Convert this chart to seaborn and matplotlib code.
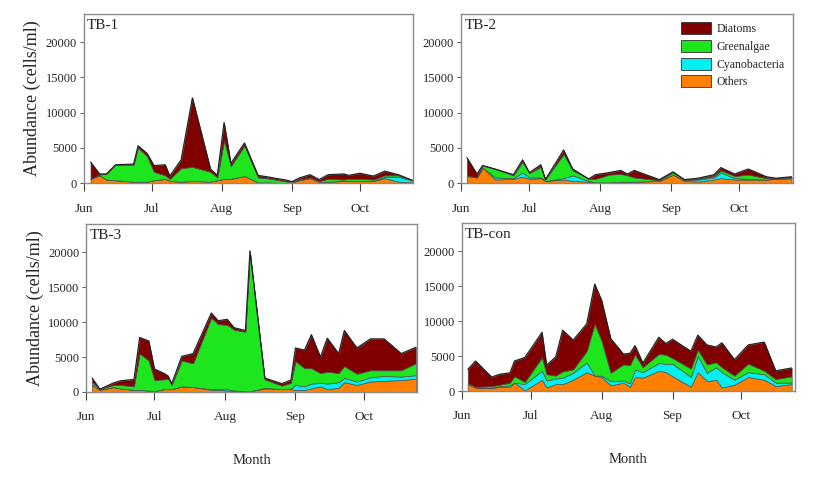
import matplotlib
matplotlib.use("Agg")
import matplotlib.pyplot as plt
import seaborn as sns
import numpy as np
import pandas as pd
from matplotlib.patches import Patch

# ---------------- data (days since 1 June) ----------------
groups = ["Diatoms", "Greenalgae", "Cyanobacteria", "Others"]
month_labels = ["Jun", "Jul", "Aug", "Sep", "Oct"]
month_days = [0, 30, 61, 92, 122]

tb1_day = [3, 7, 10, 14, 22, 24, 28, 31, 36, 38, 43, 48, 56, 59, 62, 65, 71, 77, 81, 90, 92, 95, 100, 104, 108, 115, 117, 122, 128, 133, 139, 146]
tb1_oth = [600, 1100, 500, 400, 200, 200, 200, 400, 600, 300, 200, 300, 200, 400, 600, 600, 1000, 100, 100, 0, 100, 400, 700, 200, 200, 300, 300, 300, 300, 700, 200, 100]
tb1_cya = [0, 0, 0, 0, 0, 0, 0, 0, 0, 0, 0, 0, 0, 0, 0, 0, 0, 0, 0, 0, 0, 0, 0, 0, 0, 0, 0, 0, 0, 200, 700, 200]
tb1_gre = [0, 100, 800, 2200, 2400, 4800, 3600, 1200, 500, 300, 1900, 2000, 1400, 400, 5400, 1800, 4300, 700, 600, 200, 50, 100, 100, 100, 400, 200, 300, 300, 200, 200, 200, 0]
tb1_dia = [2400, 100, 0, 0, 100, 300, 400, 900, 1500, 400, 1200, 9800, 400, 300, 2600, 400, 400, 300, 200, 200, 50, 200, 400, 200, 600, 800, 500, 800, 500, 600, 100, 0]

tb2_day = [2.6, 7, 9.5, 15, 23, 27, 30, 35, 37, 45, 49, 56, 59, 65, 70, 73, 76, 87, 93, 98, 104, 111, 114, 120, 126, 134, 138, 145]
tb2_oth = [1000, 800, 2200, 500, 600, 900, 600, 700, 300, 500, 300, 200, 100, 100, 200, 200, 200, 300, 1200, 300, 200, 500, 700, 500, 500, 500, 600, 700]
tb2_cya = [0, 0, 0, 300, 100, 600, 200, 100, 0, 200, 800, 100, 0, 0, 0, 0, 0, 0, 0, 100, 300, 300, 800, 200, 100, 0, 0, 0]
tb2_gre = [100, 0, 300, 1200, 400, 1500, 600, 1500, 200, 3400, 700, 300, 500, 1100, 1100, 900, 600, 100, 300, 100, 100, 200, 300, 300, 600, 200, 0, 100]
tb2_dia = [2500, 500, 0, 0, 100, 300, 100, 300, 0, 600, 200, 0, 600, 300, 500, 200, 1000, 100, 100, 0, 100, 200, 400, 300, 800, 200, 100, 100]

tb3_day = [2.6, 6, 12, 15, 21, 23.5, 27.5, 30, 34, 36, 37.6, 42, 47, 55, 58, 62, 65, 70, 72, 78.5, 86, 90, 92, 96, 99, 103, 106, 111, 113.5, 119, 125, 131, 138.5, 145]
tb3_oth = [1000, 300, 700, 500, 300, 300, 200, 100, 400, 400, 400, 800, 700, 300, 300, 200, 100, 100, 100, 500, 400, 400, 300, 300, 500, 800, 400, 600, 1400, 1000, 1500, 1600, 1700, 1900]
tb3_cya = [0, 0, 0, 0, 0, 0, 0, 0, 0, 0, 0, 0, 0, 100, 100, 200, 100, 0, 0, 100, 0, 100, 700, 500, 700, 500, 800, 800, 600, 500, 600, 700, 500, 500]
tb3_gre = [400, 100, 300, 500, 500, 5200, 4300, 1600, 1400, 1500, 600, 3700, 3400, 10200, 9300, 9200, 8700, 8500, 19700, 1200, 500, 800, 3400, 2600, 2200, 1400, 1700, 1300, 1700, 1100, 1000, 800, 900, 1700]
tb3_dia = [600, 0, 300, 600, 1000, 2300, 2800, 1600, 900, 400, 200, 600, 1400, 700, 500, 800, 300, 200, 400, 200, 300, 400, 1900, 2600, 4800, 2300, 4800, 2800, 5100, 3700, 4500, 4500, 2400, 2300]

tbc_day = [2.6, 6, 13, 16.5, 21, 23, 27.5, 35, 37, 41, 44, 48.6, 54.5, 58, 61, 65, 70.5, 73.4, 75.6, 79, 86, 89, 92, 100, 103, 107, 111, 113.5, 119, 125, 132, 137, 144]
tbc_oth = [1000, 500, 400, 600, 600, 1200, 100, 1600, 500, 1000, 1000, 1600, 2700, 2200, 2000, 800, 1200, 600, 2000, 1900, 2900, 2700, 2100, 600, 2700, 1400, 1600, 500, 900, 2000, 1600, 700, 1000]
tbc_cya = [0, 0, 100, 100, 200, 0, 900, 1300, 1000, 800, 900, 1000, 1400, 0, 200, 600, 300, 500, 1100, 800, 1100, 1200, 1800, 1400, 2300, 1200, 1800, 2200, 700, 700, 800, 500, 200]
tbc_gre = [100, 100, 200, 200, 400, 900, 300, 1900, 900, 400, 900, 500, 1600, 7400, 5000, 1200, 2300, 2600, 2100, 700, 1300, 1300, 800, 1200, 900, 1200, 700, 700, 600, 1200, 500, 500, 900]
tbc_dia = [2000, 3700, 1300, 1500, 1400, 2200, 3500, 3600, 1300, 2700, 5900, 4200, 3900, 5700, 5800, 4900, 1500, 1700, 1300, 600, 2400, 1600, 2700, 2500, 2100, 2800, 2200, 3500, 2300, 2700, 4100, 1200, 1200]

panels = [
    ("TB-1", tb1_day, tb1_oth, tb1_cya, tb1_gre, tb1_dia),
    ("TB-2", tb2_day, tb2_oth, tb2_cya, tb2_gre, tb2_dia),
    ("TB-3", tb3_day, tb3_oth, tb3_cya, tb3_gre, tb3_dia),
    ("TB-con", tbc_day, tbc_oth, tbc_cya, tbc_gre, tbc_dia),
]

colors = {"Diatoms": "#800000", "Greenalgae": "#1ee61e", "Cyanobacteria": "#00f0f0", "Others": "#ff8000"}

# ---------------- style ----------------
sns.set_theme(style="white")
plt.rcParams["font.family"] = ["Liberation Serif", "DejaVu Serif"]

fig = plt.figure(figsize=(8.13, 4.78), dpi=100)
positions = [
    [0.103, 0.617, 0.405, 0.354],
    [0.567, 0.617, 0.408, 0.354],
    [0.106, 0.180, 0.407, 0.351],
    [0.568, 0.182, 0.410, 0.351],
]

for i, (name, day, oth, cya, gre, dia) in enumerate(panels):
    ax = fig.add_axes(positions[i])
    ax.stackplot(day, oth, cya, gre, dia,
                 colors=[colors["Others"], colors["Cyanobacteria"], colors["Greenalgae"], colors["Diatoms"]],
                 edgecolor="#505050", linewidth=0.5)
    total = np.array(oth) + np.array(cya) + np.array(gre) + np.array(dia)
    df = pd.DataFrame({"day": day, "total": total})
    sns.lineplot(data=df, x="day", y="total", ax=ax, color="#202020", linewidth=0.8)
    ax.set_xlim(0, 145.5)
    ax.set_ylim(0, 24000)
    ax.set_xticks(month_days)
    ax.set_xticklabels(month_labels, fontsize=9.5)
    ax.set_yticks([0, 5000, 10000, 15000, 20000])
    ax.set_yticklabels(["0", "5000", "10000", "15000", "20000"], fontsize=9)
    ax.tick_params(axis="x", direction="out", length=6, width=0.8, color="#404040", pad=8, bottom=True)
    ax.tick_params(axis="y", direction="out", length=3, width=0.6, color="#404040", pad=2, left=True)
    for s in ax.spines.values():
        s.set_color("#8a8a8a")
        s.set_linewidth(1.0)
    ax.set_xlabel("Month" if i >= 2 else "", fontsize=10.5, labelpad=22)
    ax.set_ylabel("Abundance (cells/ml)" if i % 2 == 0 else "", fontsize=13, labelpad=3)
    ax.text(0.01, 0.97, name, transform=ax.transAxes, ha="left", va="top", fontsize=11)
    if i == 1:
        handles = [Patch(facecolor=colors[g], edgecolor="#303030", linewidth=0.6) for g in groups]
        ax.legend(handles, groups, loc="upper right", frameon=False, fontsize=8.5,
                  handlelength=2.6, handleheight=1.2, labelspacing=0.4, handletextpad=0.4,
                  borderaxespad=0.3)

fig.savefig("out.png", dpi=100)
